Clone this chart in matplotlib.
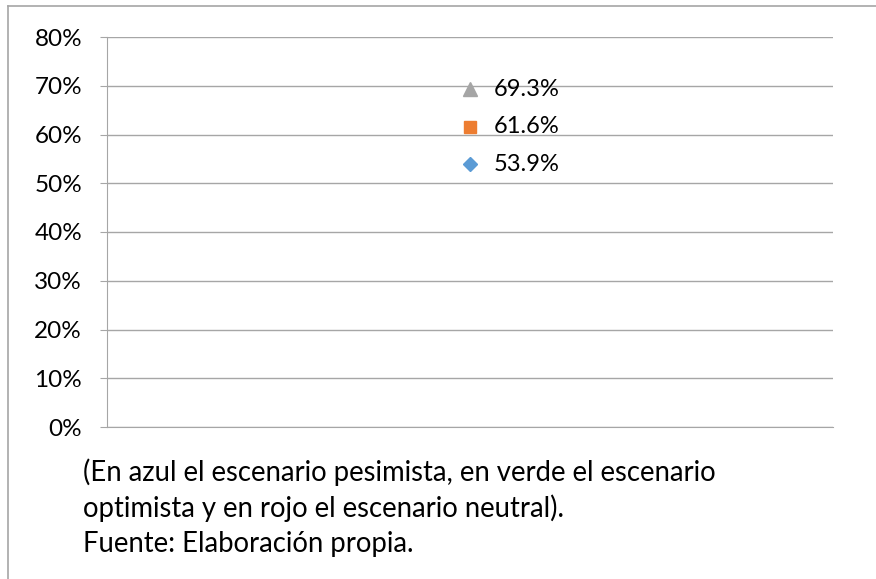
import matplotlib.pyplot as plt

# Scenario values (fraction)
series = ['pesimista', 'neutral', 'optimista']
values = [0.539, 0.616, 0.693]
colors = ['#5b9bd5', '#ed7d31', '#a5a5a5']
markers = ['D', 's', '^']
sizes = [7, 8.5, 10]
yticks = [0, 0.1, 0.2, 0.3, 0.4, 0.5, 0.6, 0.7, 0.8]
note = ('(En azul el escenario pesimista, en verde el escenario\n'
        'optimista y en rojo el escenario neutral).\n'
        'Fuente: Elaboración propia.')

plt.rcParams['font.family'] = ['Lato', 'DejaVu Sans']

W, H = 876, 579
fig = plt.figure(figsize=(W / 100, H / 100), dpi=100)

# outer frame (left and top only visible)
fig.add_artist(plt.Line2D([8 / W, 8 / W], [0, 1 - 6 / H], color='#a6a6a6', lw=1.2,
                          transform=fig.transFigure))
fig.add_artist(plt.Line2D([8 / W, 1], [1 - 6 / H, 1 - 6 / H], color='#a6a6a6', lw=1.2,
                          transform=fig.transFigure))

x0, x1 = 107, 833
y0, y1 = 37, 427
ax = fig.add_axes([x0 / W, 1 - y1 / H, (x1 - x0) / W, (y1 - y0) / H])

for v, c, m, s in zip(values, colors, markers, sizes):
    ax.plot([0], [v], marker=m, color=c, markersize=s, linestyle='none', zorder=3)
    ax.annotate(f'{v * 100:.1f}%', (0, v), xytext=(17, 0), textcoords='offset points',
                va='center', ha='left', fontsize=17)

ax.set_xlim(-1, 1)
ax.set_ylim(0, 0.8)
ax.set_yticks(yticks)
ax.set_yticklabels([f'{int(round(t * 100))}%' for t in yticks], fontsize=17.5)
ax.set_xticks([])
ax.yaxis.grid(True, color='#a6a6a6', lw=1)
ax.set_axisbelow(True)
for side in ['top', 'right']:
    ax.spines[side].set_visible(False)
ax.spines['left'].set_color('#a6a6a6')
ax.spines['bottom'].set_color('#a6a6a6')
ax.tick_params(axis='y', length=5, color='#a6a6a6', pad=13)

fig.text(83 / W, 1 - 458 / H, note, fontsize=19.8, va='top', ha='left', linespacing=1.4)

plt.savefig('out.png', dpi=100)
